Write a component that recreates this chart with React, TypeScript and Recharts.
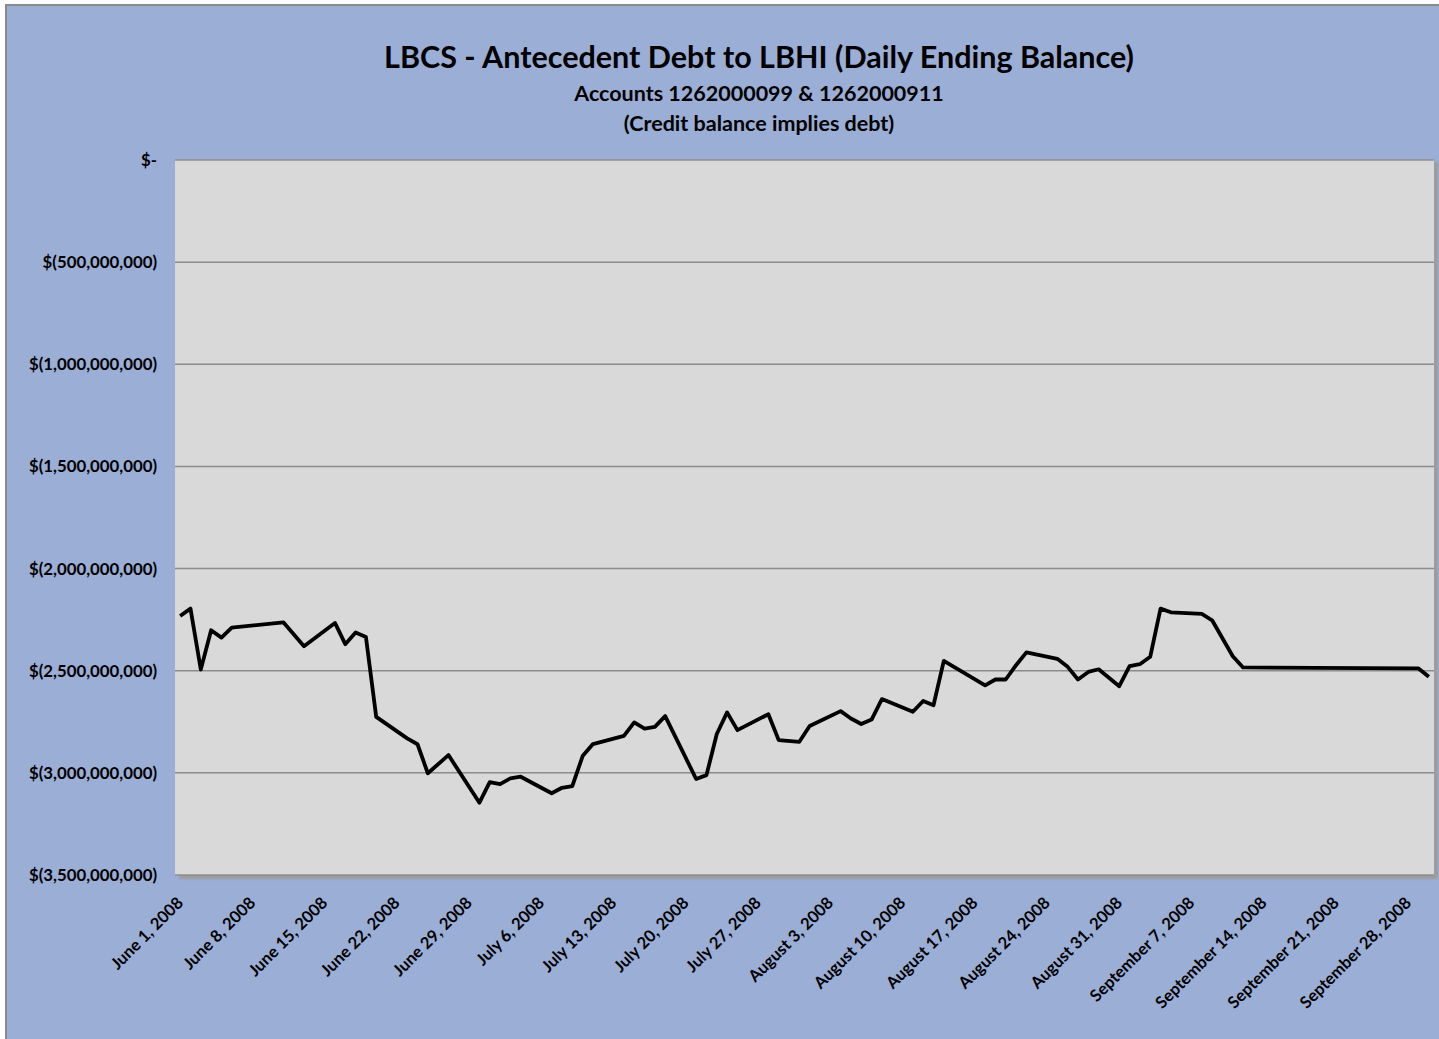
import React from 'react';
import { LineChart, Line, XAxis, YAxis, CartesianGrid } from 'recharts';

const dates = [
  '2008-06-01', '2008-06-02', '2008-06-03', '2008-06-04', '2008-06-05', '2008-06-06',
  '2008-06-11', '2008-06-13', '2008-06-16', '2008-06-17', '2008-06-18', '2008-06-19',
  '2008-06-20', '2008-06-23', '2008-06-24', '2008-06-25', '2008-06-27', '2008-06-30',
  '2008-07-01', '2008-07-02', '2008-07-03', '2008-07-04', '2008-07-07', '2008-07-08',
  '2008-07-09', '2008-07-10', '2008-07-11', '2008-07-14', '2008-07-15', '2008-07-16',
  '2008-07-17', '2008-07-18', '2008-07-21', '2008-07-22', '2008-07-23', '2008-07-24',
  '2008-07-25', '2008-07-28', '2008-07-29', '2008-07-31', '2008-08-01', '2008-08-04',
  '2008-08-05', '2008-08-06', '2008-08-07', '2008-08-08', '2008-08-11', '2008-08-12',
  '2008-08-13', '2008-08-14', '2008-08-18', '2008-08-19', '2008-08-20', '2008-08-21',
  '2008-08-22', '2008-08-25', '2008-08-26', '2008-08-27', '2008-08-28', '2008-08-29',
  '2008-08-31', '2008-09-01', '2008-09-02', '2008-09-03', '2008-09-04', '2008-09-05',
  '2008-09-08', '2008-09-09', '2008-09-11', '2008-09-12', '2008-09-19', '2008-09-29',
  '2008-09-30',
];

// daily ending balance, $ billions (credit balance shown negative)
const balances = [
  -2.232, -2.196, -2.494, -2.302, -2.338, -2.289,
  -2.263, -2.38, -2.266, -2.37, -2.313, -2.335,
  -2.726, -2.831, -2.86, -3.002, -2.913, -3.146,
  -3.045, -3.055, -3.027, -3.019, -3.1, -3.073,
  -3.065, -2.918, -2.859, -2.819, -2.753, -2.783,
  -2.775, -2.722, -3.03, -3.011, -2.81, -2.704,
  -2.791, -2.713, -2.84, -2.848, -2.771, -2.698,
  -2.734, -2.761, -2.739, -2.639, -2.701, -2.648,
  -2.669, -2.452, -2.572, -2.543, -2.543, -2.473,
  -2.41, -2.442, -2.481, -2.543, -2.506, -2.493,
  -2.576, -2.478, -2.468, -2.432, -2.196, -2.214,
  -2.222, -2.253, -2.429, -2.484, -2.486, -2.489,
  -2.53,
];

const tickLabels = [
  'June 1, 2008', 'June 8, 2008', 'June 15, 2008', 'June 22, 2008', 'June 29, 2008',
  'July 6, 2008', 'July 13, 2008', 'July 20, 2008', 'July 27, 2008', 'August 3, 2008',
  'August 10, 2008', 'August 17, 2008', 'August 24, 2008', 'August 31, 2008',
  'September 7, 2008', 'September 14, 2008', 'September 21, 2008', 'September 28, 2008',
];

const yTicks = [0, -500000000, -1000000000, -1500000000, -2000000000, -2500000000, -3000000000, -3500000000];

const START = Date.UTC(2008, 5, 1);
const DAY = 86400000;
const dayOf = (iso: string) => {
  const [y, m, d] = iso.split('-').map(Number);
  return Math.round((Date.UTC(y, m - 1, d) - START) / DAY);
};

const data = dates.map((d, i) => ({ day: dayOf(d), balance: balances[i] * 1e9 }));
const xTicks = tickLabels.map((_, i) => i * 7);

const FONT = 'Lato, "Open Sans", sans-serif';

const fmtMoney = (v: number) => {
  if (v === 0) return '$-';
  return '$(' + Math.abs(v).toLocaleString('en-US') + ')';
};

const DateTick = (props: any) => {
  const { x, y, payload } = props;
  const label = tickLabels[Math.round(payload.value / 7)];
  return (
    <g transform={`translate(${x + 4},${y + 21})`}>
      <text
        transform="rotate(-45)"
        textAnchor="end"
        fontFamily={FONT}
        fontWeight="bold"
        fontSize={16.5}
        fill="#000"
      >
        {label}
      </text>
    </g>
  );
};

export default function App() {
  return (
    <div
      style={{
        position: 'absolute',
        left: 5,
        top: 4,
        width: 1434,
        height: 1035,
        background: '#9baed6',
        borderLeft: '2px solid #8a8a8a',
        borderTop: '2px solid #8a8a8a',
        fontFamily: FONT,
      }}
    >
      <div
        style={{
          position: 'absolute',
          left: 172,
          top: 156,
          width: 1259,
          height: 717,
          background: '#9c9c9c',
          filter: 'blur(1px)',
        }}
      />
      <div style={{ position: 'absolute', left: 0, width: 1504, top: 32, textAlign: 'center', fontWeight: 'bold', fontSize: 30.5, color: '#000' }}>
        LBCS - Antecedent Debt to LBHI (Daily Ending Balance)
      </div>
      <div style={{ position: 'absolute', left: 0, width: 1504, top: 74, textAlign: 'center', fontWeight: 'bold', fontSize: 21.5, color: '#000' }}>
        Accounts 1262000099 &amp; 1262000911
      </div>
      <div style={{ position: 'absolute', left: 0, width: 1504, top: 104, textAlign: 'center', fontWeight: 'bold', fontSize: 21.5, color: '#000' }}>
        (Credit balance implies debt)
      </div>
      <div style={{ position: 'absolute', left: -2, top: -2 }}>
        <LineChart
          width={1434}
          height={1035}
          data={data}
          margin={{ top: 156, right: 5, left: 0, bottom: 0 }}
        >
          <CartesianGrid
            vertical={false}
            horizontal
            stroke="#8c8c8c"
            strokeWidth={1.5}
            fill="#d9d9d9"
            fillOpacity={1}
          />
          <XAxis
            dataKey="day"
            type="number"
            domain={[-0.5, 121.5]}
            ticks={xTicks}
            interval={0}
            axisLine={false}
            tickLine={false}
            height={164}
            tick={<DateTick />}
          />
          <YAxis
            type="number"
            domain={[-3500000000, 0]}
            ticks={yTicks}
            interval={0}
            width={170}
            axisLine={false}
            tickLine={false}
            tickSize={0}
            tickMargin={18}
            tickFormatter={fmtMoney}
            tick={{ fontFamily: FONT, fontWeight: 'bold', fontSize: 16.8, fill: '#000' }}
          />
          <Line
            dataKey="balance"
            type="linear"
            stroke="#000"
            strokeWidth={3.8}
            strokeLinejoin="round"
            dot={false}
            isAnimationActive={false}
          />
        </LineChart>
      </div>
    </div>
  );
}
